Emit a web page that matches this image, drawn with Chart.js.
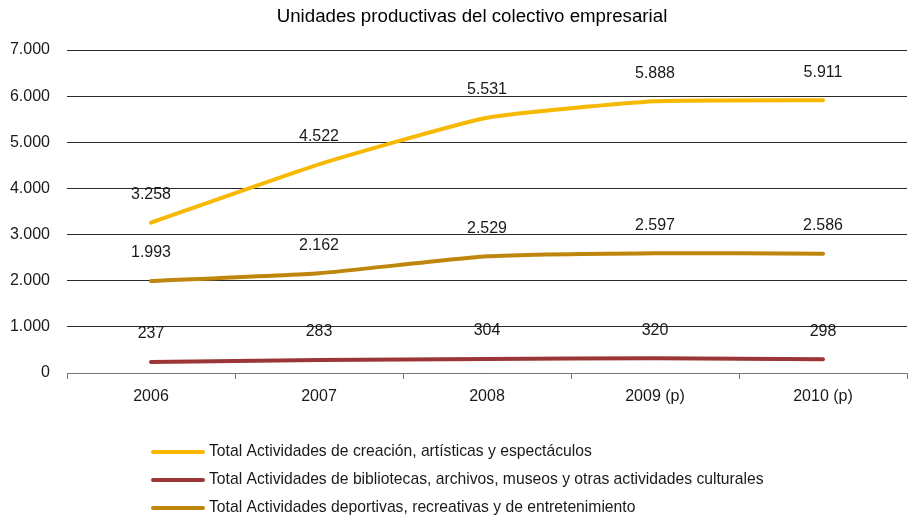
<!DOCTYPE html>
<html><head><meta charset="utf-8">
<script src="https://cdn.jsdelivr.net/npm/chart.js@4/dist/chart.umd.min.js"></script>
<style>html,body{margin:0;padding:0;background:#fff}#wrap{width:908px;height:518px;position:relative}</style>
</head><body><div id="wrap"><canvas id="c" width="908" height="518"></canvas></div>
<script>
const title = "Unidades productivas del colectivo empresarial";
const categories = ["2006", "2007", "2008", "2009 (p)", "2010 (p)"];
const seriesNames = [
  "Total Actividades de creación, artísticas y espectáculos",
  "Total Actividades de bibliotecas, archivos, museos y otras actividades culturales",
  "Total Actividades deportivas, recreativas y de entretenimiento"
];
const creacion = [3258, 4522, 5531, 5888, 5911];
const bibliotecas = [237, 283, 304, 320, 298];
const deportivas = [1993, 2162, 2529, 2597, 2586];
const yTicks = [0, 1000, 2000, 3000, 4000, 5000, 6000, 7000];
const colors = ["#F7B800", "#9C3636", "#BE860C"];

const FONT = "'Liberation Sans Narrow', 'Arial Narrow', 'Liberation Sans', sans-serif";
const fmt = v => v.toLocaleString('de-DE');

const labelPlugin = {
  id: 'labels',
  afterDatasetsDraw(chart) {
    const ctx = chart.ctx;
    ctx.save();
    ctx.font = "16px " + FONT;
    ctx.fillStyle = "#1a1a1a";
    ctx.textAlign = "center";
    ctx.textBaseline = "middle";
    chart.data.datasets.forEach((ds, i) => {
      chart.getDatasetMeta(i).data.forEach((pt, j) => {
        ctx.fillText(fmt(ds.data[j]), pt.x, pt.y - 28);
      });
    });
    // title
    ctx.font = "18.7px " + FONT;
    ctx.fillStyle = "#000";
    ctx.fillText(title, 472, 17);
    // legend
    ctx.font = "15.7px " + FONT;
    ctx.textAlign = "left";
    chart.data.datasets.forEach((ds, i) => {
      const y = 452 + i * 28;
      ctx.strokeStyle = ds.borderColor;
      ctx.lineWidth = 4;
      ctx.lineCap = "round";
      ctx.beginPath(); ctx.moveTo(153, y); ctx.lineTo(203, y); ctx.stroke();
      ctx.fillStyle = "#1a1a1a";
      ctx.fillText(ds.label, 209, y);
    });
    ctx.restore();
  }
};

new Chart(document.getElementById('c'), {
  type: 'line',
  data: {
    labels: categories,
    datasets: [
      { label: seriesNames[0], data: creacion, borderColor: colors[0] },
      { label: seriesNames[1], data: bibliotecas, borderColor: colors[1] },
      { label: seriesNames[2], data: deportivas, borderColor: colors[2] }
    ].map(d => Object.assign(d, { borderWidth: 4, pointRadius: 0, tension: 0.15, fill: false, borderCapStyle: 'round', backgroundColor: d.borderColor }))
  },
  options: {
    responsive: false,
    animation: false,
    devicePixelRatio: 1,
    layout: { padding: { top: 50, right: 1, left: 0, bottom: 0 } },
    plugins: { legend: { display: false }, title: { display: false }, tooltip: { enabled: false } },
    scales: {
      x: {
        offset: true,
        grid: { display: true, offset: true, drawOnChartArea: false, drawTicks: true, tickLength: 6, color: '#777' },
        border: { display: true, color: '#777', width: 1 },
        ticks: { font: { family: FONT, size: 16 }, color: '#1a1a1a', padding: 8, maxRotation: 0 },
        afterFit(s) { s.height = 145; }
      },
      y: {
        min: 0, max: 7000,
        afterBuildTicks(s) { s.ticks = yTicks.map(v => ({ value: v })); },
        grid: { color: '#2a2a2a', lineWidth: 1, drawTicks: false },
        border: { display: false },
        ticks: { font: { family: FONT, size: 16 }, color: '#1a1a1a', padding: 17, callback: v => fmt(v) },
        afterFit(s) { s.width = 67; }
      }
    }
  },
  plugins: [labelPlugin]
});
</script></body></html>
